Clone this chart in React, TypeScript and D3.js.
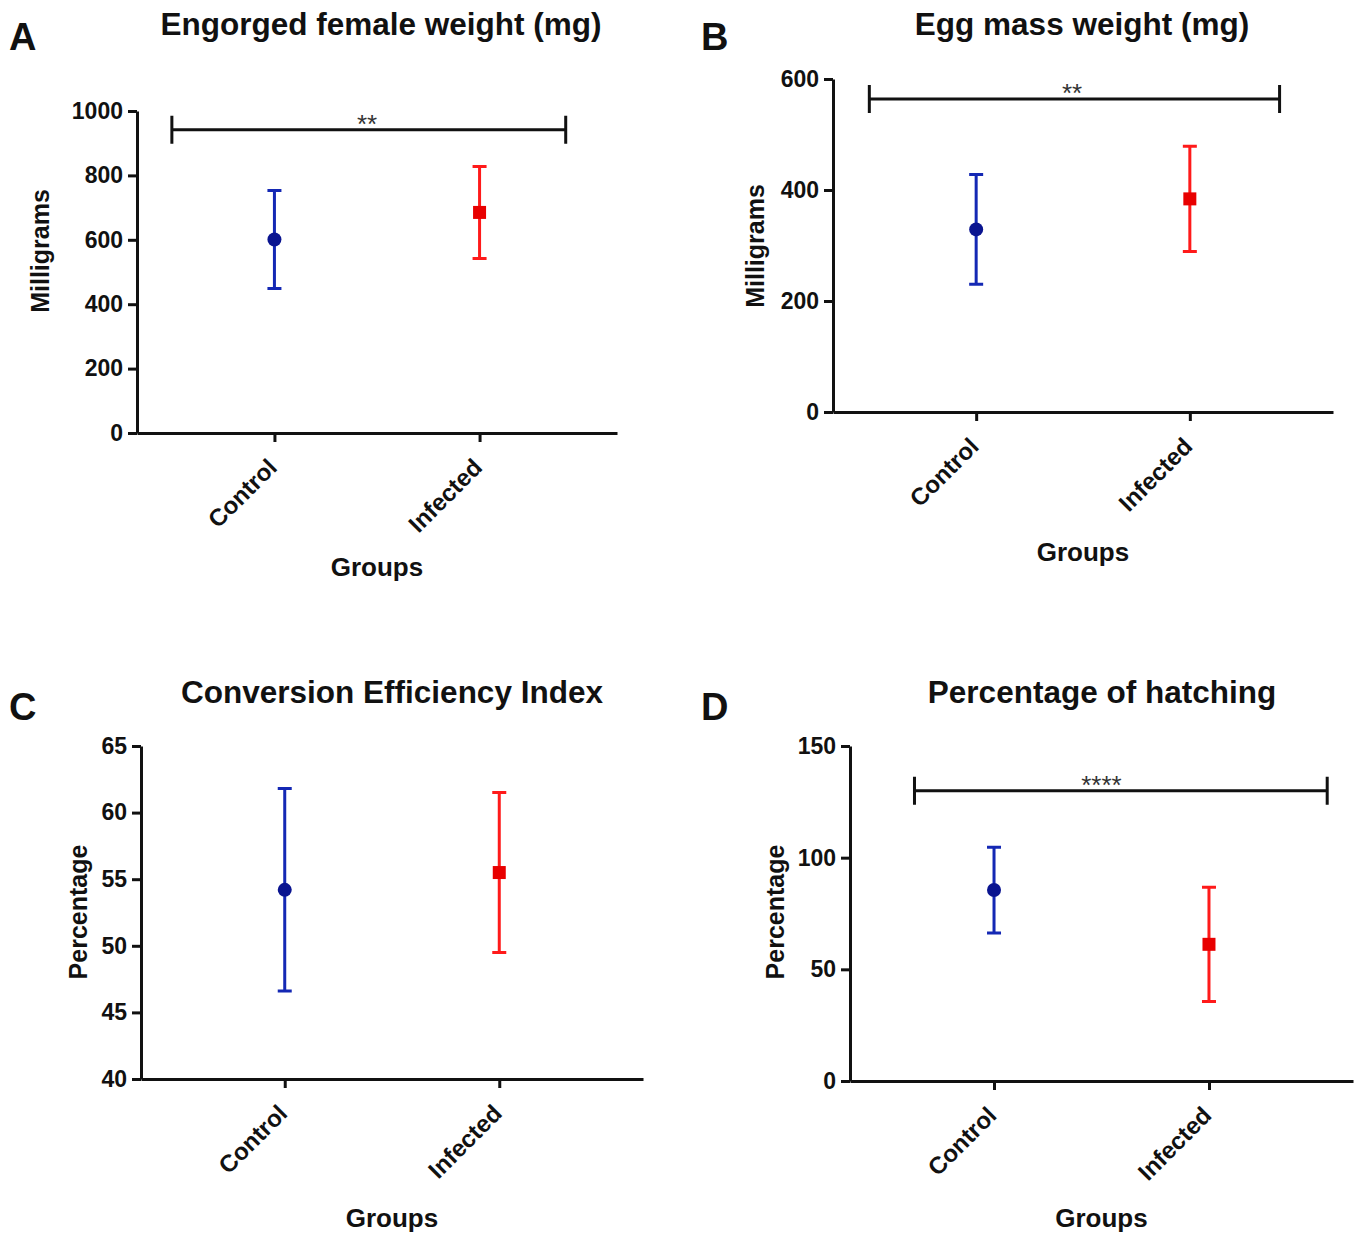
import * as d3 from "d3";
import React, { useEffect, useRef } from "react";

// categories
const groups = ["Control", "Infected"];

// A - engorged female weight (mg)
const engorgedMean = [601, 685];
const engorgedSd = [152, 143];
const engorgedTicks = [0, 200, 400, 600, 800, 1000];

// B - egg mass weight (mg)
const eggMean = [329, 384];
const eggSd = [99, 95];
const eggTicks = [0, 200, 400, 600];

// C - conversion efficiency index
const ceiMean = [54.2, 55.5];
const ceiSd = [7.6, 6.0];
const ceiTicks = [40, 45, 50, 55, 60, 65];

// D - percentage of hatching
const hatchMean = [85.5, 61.2];
const hatchSd = [19.2, 25.6];
const hatchTicks = [0, 50, 100, 150];

const barColors = ["#1428b4", "#ff1a1a"];
const markColors = ["#0a1490", "#e80000"];
const FONT = "'Liberation Sans', Arial, sans-serif";

const panels = [
  {
    letter: "A", lx: 9, ly: 50,
    title: "Engorged female weight (mg)", tx: 381, ty: 35,
    yLabel: "Milligrams", ylx: 40, yly: 251, gy: 134,
    x0: 137, x1: 617, yTop: 111, yBot: 433,
    domain: [0, 1000], ticks: engorgedTicks, mean: engorgedMean, sd: engorgedSd,
    bracket: 942, stars: "**", bl: -0.5, br: 0.42, sdx: -10,
  },
  {
    letter: "B", lx: 701, ly: 50,
    title: "Egg mass weight (mg)", tx: 1082, ty: 35,
    yLabel: "Milligrams", ylx: 755, yly: 246, gy: 140,
    x0: 833, x1: 1333, yTop: 79, yBot: 412,
    domain: [0, 600], ticks: eggTicks, mean: eggMean, sd: eggSd,
    bracket: 564, stars: "**", bl: -0.5, br: 0.42, sdx: -11,
  },
  {
    letter: "C", lx: 9, ly: 720,
    title: "Conversion Efficiency Index", tx: 392, ty: 703,
    yLabel: "Percentage", ylx: 78, yly: 912, gy: 139,
    x0: 141, x1: 643, yTop: 746, yBot: 1079,
    domain: [40, 65], ticks: ceiTicks, mean: ceiMean, sd: ceiSd,
    bracket: null, stars: "", bl: 0, br: 0, sdx: 0,
  },
  {
    letter: "D", lx: 701, ly: 720,
    title: "Percentage of hatching", tx: 1102, ty: 703,
    yLabel: "Percentage", ylx: 775, yly: 912, gy: 137,
    x0: 850, x1: 1353, yTop: 746, yBot: 1081,
    domain: [0, 150], ticks: hatchTicks, mean: hatchMean, sd: hatchSd,
    bracket: 130, stars: "****", bl: -0.37, br: 0.55, sdx: 0,
  },
];

const drawPanel = (svg, p) => {
  const g = svg.append("g");
  const x = d3.scalePoint().domain(groups).range([p.x0, p.x1]).padding(0.67);
  const y = d3.scaleLinear().domain(p.domain).range([p.yBot, p.yTop]);

  // y axis
  const ya = g
    .append("g")
    .attr("transform", `translate(${p.x0},0)`)
    .call(d3.axisLeft(y).tickValues(p.ticks).tickSize(9).tickSizeOuter(0).tickPadding(5).tickFormat(d3.format("d")));

  // x axis
  const xa = g
    .append("g")
    .attr("transform", `translate(0,${p.yBot})`)
    .call(d3.axisBottom(x).tickSize(9).tickSizeOuter(0).tickFormat(() => ""));

  [ya, xa].forEach((a) => {
    a.select(".domain").attr("stroke", "#111").attr("stroke-width", 3);
    a.selectAll(".tick line").attr("stroke", "#111").attr("stroke-width", 3);
  });
  ya.selectAll(".tick text")
    .attr("fill", "#111")
    .attr("font-family", FONT)
    .attr("font-weight", "bold")
    .attr("font-size", 23);

  // rotated category labels
  g.selectAll(".xlab")
    .data(groups)
    .enter()
    .append("text")
    .attr("transform", (d) => `translate(${x(d) + 4},${p.yBot + 36}) rotate(-45)`)
    .attr("text-anchor", "end")
    .attr("font-family", FONT)
    .attr("font-weight", "bold")
    .attr("font-size", 24)
    .attr("fill", "#111")
    .text((d) => d);

  // error bars
  const bars = g.selectAll(".bar").data(groups).enter().append("g");
  bars
    .append("path")
    .attr("d", (d, i) => {
      const cx = x(d);
      const lo = y(p.mean[i] - p.sd[i]);
      const hi = y(p.mean[i] + p.sd[i]);
      return `M${cx},${lo}V${hi}M${cx - 7},${lo}H${cx + 7}M${cx - 7},${hi}H${cx + 7}`;
    })
    .attr("fill", "none")
    .attr("stroke", (d, i) => barColors[i])
    .attr("stroke-width", 3);

  bars.each(function (d, i) {
    const s = d3.select(this);
    if (i === 0) {
      s.append("circle").attr("cx", x(d)).attr("cy", y(p.mean[i])).attr("r", 7).attr("fill", markColors[i]);
    } else {
      s.append("rect")
        .attr("x", x(d) - 6.5)
        .attr("y", y(p.mean[i]) - 6.5)
        .attr("width", 13)
        .attr("height", 13)
        .attr("fill", markColors[i]);
    }
  });

  // significance bracket
  if (p.bracket !== null) {
    const step = x.step();
    const bx0 = x(groups[0]) + p.bl * step;
    const bx1 = x(groups[1]) + p.br * step;
    const by = y(p.bracket);
    g.append("path")
      .attr("d", `M${bx0},${by - 14}V${by + 14}M${bx0},${by}H${bx1}M${bx1},${by - 14}V${by + 14}`)
      .attr("fill", "none")
      .attr("stroke", "#111")
      .attr("stroke-width", 3);
    g.append("text")
      .attr("x", (x(groups[0]) + x(groups[1])) / 2 + p.sdx)
      .attr("y", by + 3)
      .attr("text-anchor", "middle")
      .attr("font-family", FONT)
      .attr("font-size", 26)
      .attr("fill", "#333")
      .text(p.stars);
  }

  // titles
  g.append("text")
    .attr("x", p.tx)
    .attr("y", p.ty)
    .attr("text-anchor", "middle")
    .attr("font-family", FONT)
    .attr("font-weight", "bold")
    .attr("font-size", 31.5)
    .attr("fill", "#111")
    .text(p.title);

  g.append("text")
    .attr("x", p.lx)
    .attr("y", p.ly)
    .attr("font-family", FONT)
    .attr("font-weight", "bold")
    .attr("font-size", 38)
    .attr("fill", "#111")
    .text(p.letter);

  g.append("text")
    .attr("transform", `translate(${p.ylx},${p.yly}) rotate(-90)`)
    .attr("text-anchor", "middle")
    .attr("dy", "0.35em")
    .attr("font-family", FONT)
    .attr("font-weight", "bold")
    .attr("font-size", 25)
    .attr("fill", "#111")
    .text(p.yLabel);

  g.append("text")
    .attr("x", (p.x0 + p.x1) / 2)
    .attr("y", p.yBot + p.gy)
    .attr("dy", "0.35em")
    .attr("text-anchor", "middle")
    .attr("font-family", FONT)
    .attr("font-weight", "bold")
    .attr("font-size", 26)
    .attr("fill", "#111")
    .text("Groups");
};

const App = () => {
  const ref = useRef(null);

  useEffect(() => {
    const svg = d3.select(ref.current);
    svg.selectAll("*").remove();
    svg.append("rect").attr("width", 1357).attr("height", 1234).attr("fill", "#fff");
    panels.forEach((p) => drawPanel(svg, p));
  }, []);

  return (
    <svg
      ref={ref}
      width={1357}
      height={1234}
      style={{ position: "absolute", left: 0, top: 0, display: "block" }}
    />
  );
};

export default App;
